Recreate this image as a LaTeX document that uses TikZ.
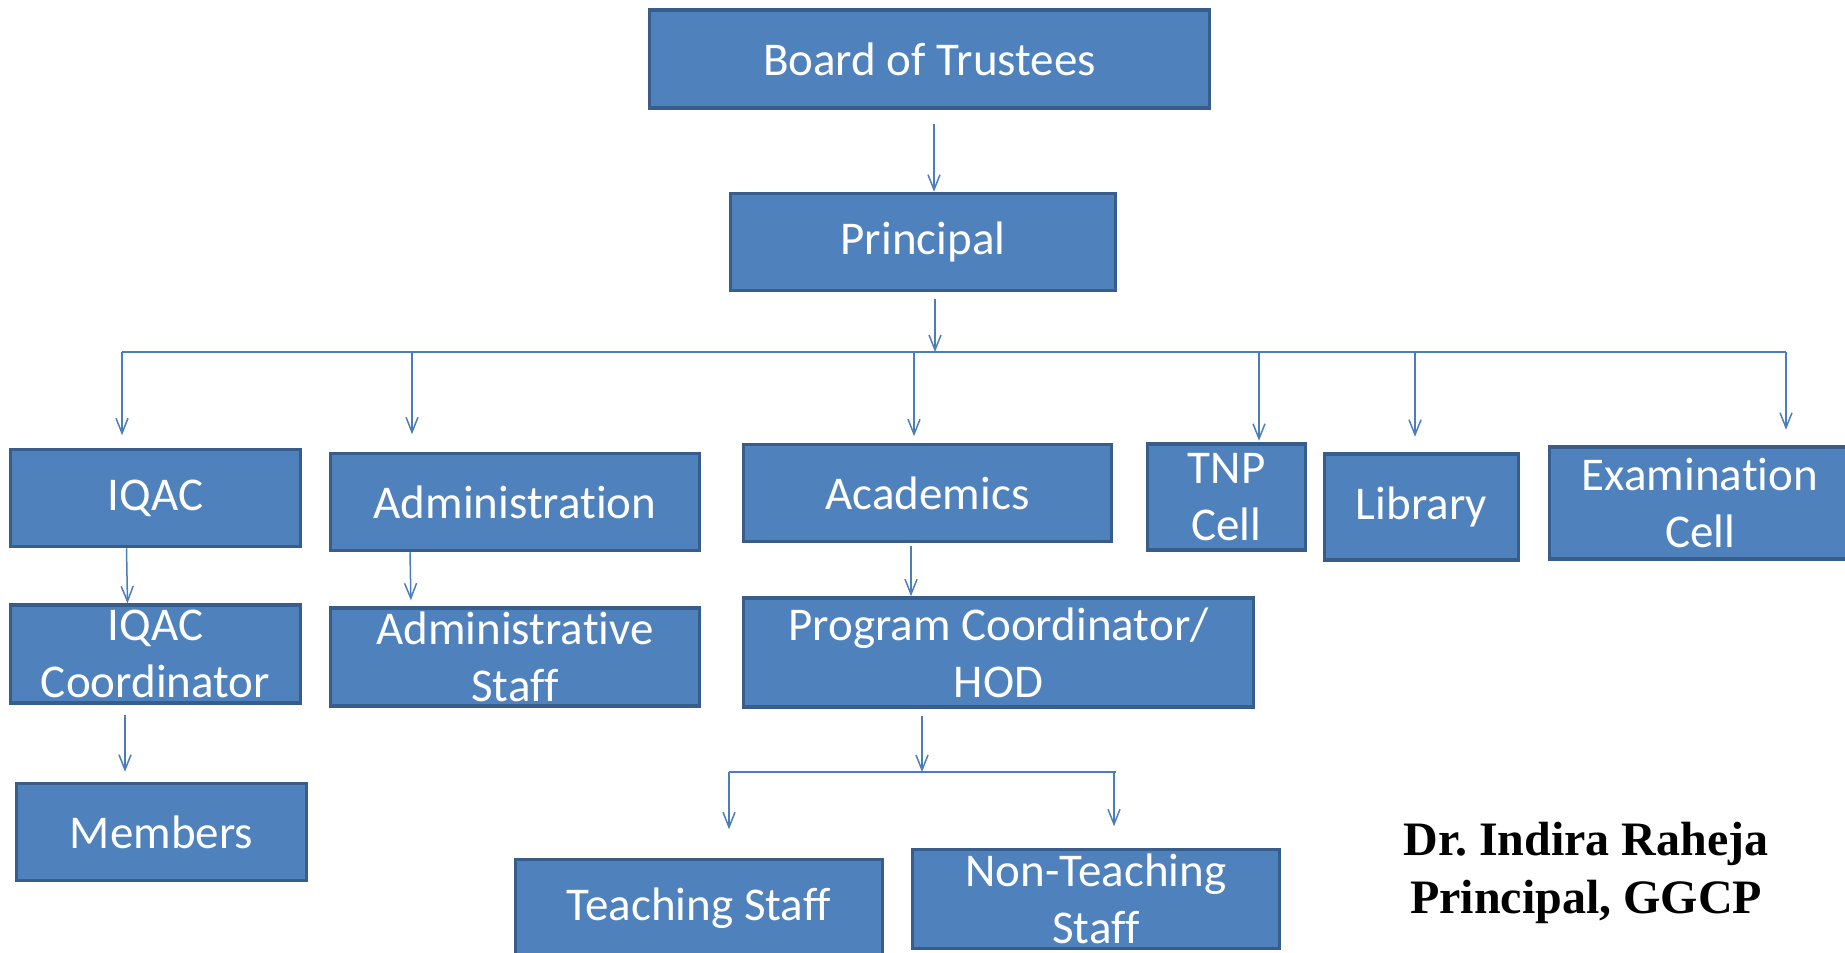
\documentclass[tikz,border=0pt]{standalone}
\usepackage{fontspec}
\setmainfont{Carlito}[Ligatures=NoCommon]
\newfontfamily\signfont{Liberation Serif}
\usetikzlibrary{arrows.meta}
\definecolor{boxfill}{RGB}{79,129,189}
\definecolor{boxline}{RGB}{56,93,138}
\definecolor{linkblue}{RGB}{74,126,187}
\tikzset{>={Straight Barb[length=7.5pt,width=6pt]}}

\begin{document}
\begin{tikzpicture}[x=0.5pt, y=-0.5pt,
    orgbox/.style={draw=boxline, fill=boxfill, line width=1.75pt, text=white,
      align=center, inner sep=0pt, font=\fontsize{23.5}{28.5}\selectfont},
    sz/.style 2 args={minimum width=#1*0.5pt, minimum height=#2*0.5pt},
    conn/.style={->, draw=linkblue, line width=0.75pt},
    rail/.style={draw=linkblue, line width=1.1pt}]
  \useasboundingbox (0,0) rectangle (1845,952);
  \clip (0,0) rectangle (1845,952);

  \node[orgbox, sz={560}{98}] (board) at (929.5,59) {Board of Trustees};
  \node[orgbox, sz={385}{97}] (principal) at (923,242) {Principal};

  \node[orgbox, sz={290}{97}] (iqac) at (155.5,498) {IQAC};
  \node[orgbox, sz={369}{97}] (admin) at (515,502) {Administration};
  \node[orgbox, sz={368}{97}] (acad) at (927.5,493) {Academics};
  \node[orgbox, sz={158}{106}] (tnp) at (1226.5,497) {TNP\\Cell};
  \node[orgbox, sz={194}{106}] (library) at (1421.5,507) {Library};
  \node[orgbox, sz={301}{112}] (exam) at (1700,503) {Examination\\Cell};

  \node[orgbox, sz={290}{98}] (iqaccoord) at (155.5,654) {IQAC\\Coordinator};
  \node[orgbox, sz={369}{98}] (adminstaff) at (515,657) {Administrative\\Staff};
  \node[orgbox, sz={510}{109}] (progcoord) at (998.5,652.5) {Program Coordinator/\\HOD};

  \node[orgbox, sz={290}{97}] (members) at (161.5,832) {Members};
  \node[orgbox, sz={367}{97}] (teaching) at (699,908) {Teaching Staff};
  \node[orgbox, sz={367}{99}] (nonteaching) at (1096,899) {Non-Teaching\\Staff};

  \node[font=\signfont\fontsize{24}{28.8}\selectfont\bfseries, align=center] (sign)
    at (1586,873) {Dr.\ Indira Raheja\\Principal, GGCP};

  \coordinate (railL) at (122,352);
  \coordinate (railR) at (1786,352);
  \coordinate (forkL) at (729,772);
  \coordinate (forkR) at (1116,772);

  \draw[conn] ([shift={(4.5,14)}]board.south) -- ([xshift=5.5pt]principal.north);
  \draw[conn, shorten <=3.5pt] ([xshift=6pt]principal.south) -- ([xshift=6pt]principal.south |- railL);
  \draw[rail] (railL) -- (railR);
  \foreach \n/\x/\gap in {iqac/122/12.5, admin/412/17.5, acad/914/6.5,
                          tnp/1259/1.5, library/1415/15.5, exam/1786/15.5}
    \draw[conn, shorten >=\gap*0.5pt] (\x,0 |- railL) -- (\x,0 |- \n.north);

  \draw[conn] ([xshift=-14.5pt]iqac.south) -- ([xshift=-14pt]iqaccoord.north);
  \draw[conn, shorten >=3pt] ([xshift=-52.5pt]admin.south) -- ([xshift=-52pt]adminstaff.north);
  \draw[conn] ([shift={(-16.5,3)}]acad.south) -- ([xshift=-43.75pt]progcoord.north);
  \draw[conn, shorten <=5pt, shorten >=5pt] ([xshift=-15.25pt]iqaccoord.south) -- ([xshift=-18.25pt]members.north);

  \draw[conn, shorten <=3.5pt] ([xshift=-38.25pt]progcoord.south) -- ([xshift=-38.25pt]progcoord.south |- forkL);
  \draw[rail] (forkL) -- (forkR);
  \draw[conn, shorten >=14.25pt] (forkL) -- (forkL |- teaching.north);
  \draw[conn, shorten >=10.75pt] ([xshift=-1pt]forkR) -- ([xshift=-1pt]forkR |- nonteaching.north);
\end{tikzpicture}
\end{document}
